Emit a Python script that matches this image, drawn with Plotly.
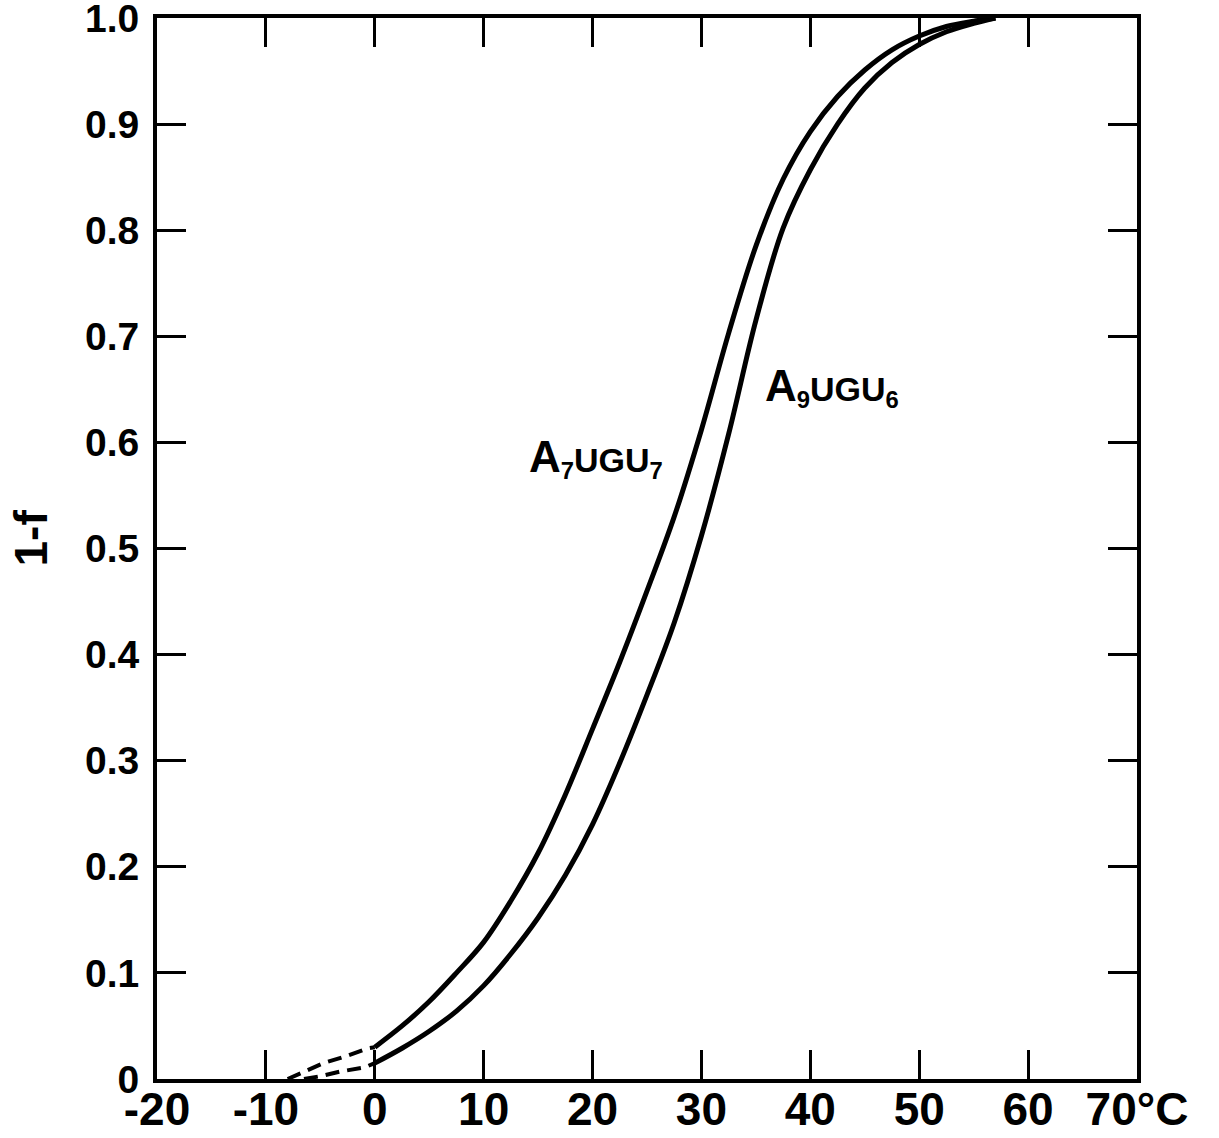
import plotly.graph_objects as go

# A7UGU7 curve (left)
a7_dash_x = [-8.0, -6.5, -4.7, -2.5, -0.6, 0.0]
a7_dash_y = [0.0, 0.007, 0.015, 0.022, 0.029, 0.030]
a7_x = [0.0, 2.5, 5.0, 7.5, 10.0, 12.5, 15.0, 17.5, 20.0, 22.5, 25.0, 27.5, 30.0,
        32.5, 35.0, 37.5, 40.0, 42.5, 45.0, 47.5, 50.0, 52.5, 55.0, 57.0]
a7_y = [0.030, 0.050, 0.073, 0.100, 0.129, 0.168, 0.213, 0.268, 0.330, 0.393, 0.460, 0.530,
        0.612, 0.703, 0.785, 0.848, 0.893, 0.926, 0.951, 0.970, 0.983, 0.992, 0.997, 1.0]

# A9UGU6 curve (right)
a9_dash_x = [-6.5, -4.8, -3.2, -1.8, -0.9, 0.0]
a9_dash_y = [0.0, 0.003, 0.007, 0.009, 0.011, 0.015]
a9_x = [0.0, 2.5, 5.0, 7.5, 10.0, 12.5, 15.0, 17.5, 20.0, 22.5, 25.0, 27.5, 30.0,
        32.5, 35.0, 37.5, 40.0, 42.5, 45.0, 47.5, 50.0, 52.5, 55.0, 57.0]
a9_y = [0.015, 0.029, 0.045, 0.064, 0.088, 0.118, 0.152, 0.192, 0.240, 0.298, 0.362, 0.430,
        0.512, 0.608, 0.715, 0.802, 0.857, 0.900, 0.934, 0.958, 0.975, 0.987, 0.995, 1.0]

x_ticks = [-20, -10, 0, 10, 20, 30, 40, 50, 60, 70]
x_ticktext = ["-20", "-10", "0", "10", "20", "30", "40", "50", "60", "70°C"]
y_ticks = [0, 0.1, 0.2, 0.3, 0.4, 0.5, 0.6, 0.7, 0.8, 0.9, 1.0]
y_ticktext = ["0", "0.1", "0.2", "0.3", "0.4", "0.5", "0.6", "0.7", "0.8", "0.9", "1.0"]

labels = ["<span style='font-size:44px'>A</span><sub>7</sub>UGU<sub>7</sub>",
          "<span style='font-size:44px'>A</span><sub>9</sub>UGU<sub>6</sub>"]
label_x = [20.3, 42.0]
label_y = [0.585, 0.652]

FONT = "Liberation Sans"
line_style = dict(color="black", width=5)
dash_style = dict(color="black", width=4, dash="14px,8px")

fig = go.Figure()
fig.add_trace(go.Scatter(x=a7_dash_x, y=a7_dash_y, mode="lines", line=dash_style))
fig.add_trace(go.Scatter(x=a9_dash_x, y=a9_dash_y, mode="lines", line=dash_style))
fig.add_trace(go.Scatter(x=a7_x, y=a7_y, mode="lines", line_shape="spline", line=line_style))
fig.add_trace(go.Scatter(x=a9_x, y=a9_y, mode="lines", line_shape="spline", line=line_style))

for t, lx, ly in zip(labels, label_x, label_y):
    fig.add_annotation(x=lx, y=ly, xref="x", yref="y", text=t, showarrow=False,
                       font=dict(family=FONT, size=34, color="black", weight="bold"))

fig.add_annotation(x=0, y=0.5, xref="paper", yref="paper", xshift=-127, yshift=10,
                   xanchor="center", yanchor="middle",
                   text="1-f", textangle=-90, showarrow=False,
                   font=dict(family=FONT, size=46, color="black", weight="bold"))

axis_common = dict(showline=True, linewidth=4, linecolor="black", mirror="ticks",
                   ticks="inside", ticklen=29, tickwidth=3, tickcolor="black",
                   showgrid=False, zeroline=False, ticklabeloverflow="allow",
                   automargin=False)

fig.update_xaxes(range=[-20, 70], tickmode="array", tickvals=x_ticks,
                 ticktext=x_ticktext, ticklabelstandoff=-13,
                 tickfont=dict(family=FONT, size=46, color="black", weight="bold"),
                 **axis_common)
fig.update_yaxes(range=[0, 1.0], tickmode="array", tickvals=y_ticks,
                 ticktext=y_ticktext, ticklabelstandoff=6,
                 tickfont=dict(family=FONT, size=39, color="black", weight="bold"),
                 **axis_common)

fig.update_layout(width=1219, height=1138, showlegend=False,
                  paper_bgcolor="white", plot_bgcolor="white",
                  margin=dict(l=157, r=82, t=18, b=59, autoexpand=False))

fig.write_html("out.html")
